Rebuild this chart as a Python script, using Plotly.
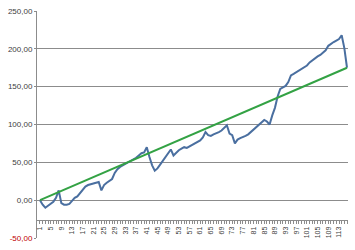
import plotly.graph_objects as go

categories = list(range(1, 117))
series_values = [
    0, -6, -10, -7, -4, -2, 3, 13, -4, -6,
    -6, -5, -1, 3, 5, 9, 13, 18, 20, 21,
    22, 22, 24, 13, 20, 23, 25, 28, 36, 41,
    44, 46, 47, 49, 51, 54, 56, 59, 62, 63,
    70, 57, 46, 39, 42, 47, 52, 57, 62, 67,
    59, 63, 66, 68, 70, 69, 71, 73, 75, 77,
    79, 83, 90, 86, 85, 87, 88, 90, 92, 95,
    99, 88, 86, 75, 80, 82, 83, 85, 87, 90,
    93, 97, 100, 103, 106, 104, 100, 112, 122, 137,
    147, 149, 151, 156, 165, 167, 169, 171, 173, 176,
    178, 182, 185, 187, 190, 192, 195, 198, 204, 207,
    209, 211, 213, 218, 201, 175,
]
trend_x = [1, 116]
trend_values = [0, 175]

x_tick_vals = list(range(1, 114, 4))
x_tick_text = [str(v) for v in x_tick_vals]
y_tick_vals = [-50, 0, 50, 100, 150, 200, 250]
y_tick_text = ['<span style="color:#c00000">-50,00</span>', "0,00", "50,00",
               "100,00", "150,00", "200,00", "250,00"]

fig = go.Figure()
fig.add_trace(go.Scatter(x=categories, y=series_values, mode="lines",
                         line=dict(color="#4a6fa0", width=2), showlegend=False))
fig.add_trace(go.Scatter(x=trend_x, y=trend_values, mode="lines",
                         line=dict(color="#33a244", width=2), showlegend=False))

fig.update_layout(
    width=355, height=250,
    margin=dict(l=37, r=7, t=7, b=7),
    paper_bgcolor="white", plot_bgcolor="white",
    font=dict(family="Liberation Sans, Arial", size=8, color="#404040"),
    xaxis=dict(
        range=[-0.12, 116.37], anchor="free", position=0.08,
        tickvals=x_tick_vals, ticktext=x_tick_text, tickangle=-90,
        tickfont=dict(size=7),
        showgrid=False, zeroline=False,
        showline=True, linecolor="#8c8c8c", linewidth=1,
        ticks="outside", ticklen=3, tickcolor="#8c8c8c",
        minor=dict(tickvals=categories, ticks="outside", ticklen=3, tickcolor="#8c8c8c"),
    ),
    yaxis=dict(
        range=[-50, 250], tickvals=y_tick_vals, ticktext=y_tick_text,
        showgrid=True, gridcolor="#8c8c8c", gridwidth=1,
        zeroline=False, showline=True, linecolor="#8c8c8c", linewidth=1,
        ticks="outside", ticklen=2, tickcolor="#8c8c8c",
    ),
    shapes=[dict(type="rect", xref="paper", yref="paper", x0=0, x1=1, y0=0, y1=1,
                 line=dict(color="#e0e0e0", width=0))],
)

fig.write_html("out.html")
